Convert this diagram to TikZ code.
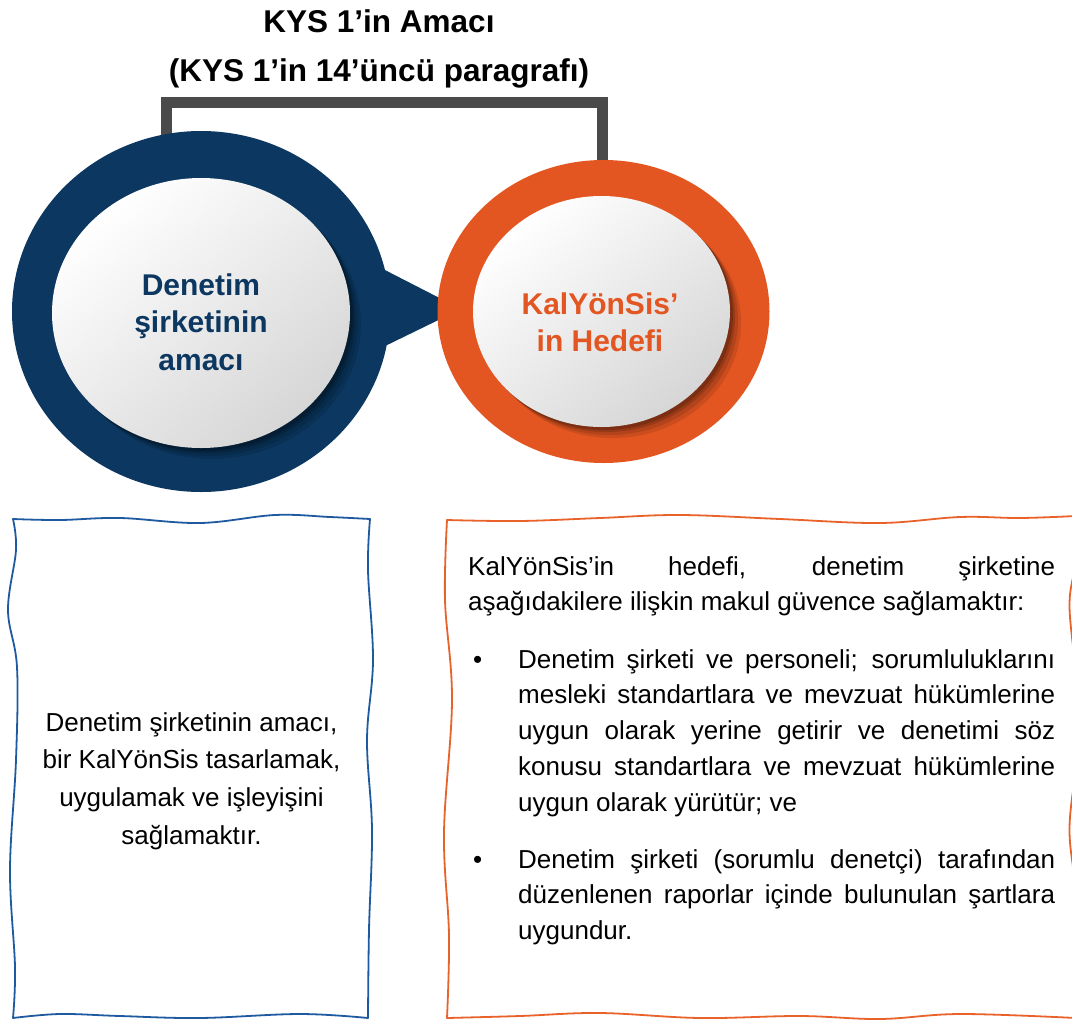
\documentclass[tikz,border=0pt]{standalone}
\usepackage{fontspec}
\setmainfont{Liberation Sans}
\usetikzlibrary{shapes.geometric,calc}
\definecolor{navy}{HTML}{0B3760}
\definecolor{orng}{HTML}{E35622}
\definecolor{brk}{HTML}{4A4A4A}
\definecolor{boxblue}{HTML}{1F5AA0}
\definecolor{boxorng}{HTML}{E8622A}
\definecolor{innerlo}{HTML}{D6D6D6}
\newcommand{\jl}[1]{\makebox[\linewidth][s]{#1}}
\tikzset{
  titletext/.style={anchor=base, inner sep=0, font=\fontsize{31.5}{36}\selectfont\bfseries},
  ring/.style={ellipse, draw=none, inner sep=0, outer sep=0},
  innerdisc/.style={ellipse, draw=none, inner sep=0, outer sep=0, top color=white, bottom color=innerlo, shading angle=40},
  label/.style={anchor=base, inner sep=0, font=\fontsize{30}{37.5}\selectfont\bfseries},
  bracketline/.style={brk, line width=11, line join=miter},
  boxarea/.style={rectangle, draw=none, inner sep=0, outer sep=0},
  wavyedge/.style={line width=1.8, line join=round, line cap=round},
  bodytext/.style={anchor=base west, inner sep=0, font=\fontsize{26}{35.8}\selectfont},
}
\begin{document}
\begin{tikzpicture}[x=1pt,y=-1pt]
\useasboundingbox (0,0) rectangle (1072,1021);
\fill[white] (0,0) rectangle (1072,1021);

% titles
\node[titletext] (t1) at (379,32) {KYS 1’in Amacı};
\node[titletext] (t2) at (379,81) {(KYS 1’in 14’üncü paragrafı)};

% helpers for bracket
\coordinate (bcn) at (201,131);
\coordinate (ocn) at (603,160);
\draw[bracketline] ($(bcn)+(-35,30)$) -- (166,102.5) -| ($(ocn)+(-0.5,15)$);

% pointer
\fill[navy] (372,263.4) -- (461,309) -- (372,352.4) -- cycle;

% blue circle
\node[ring, fill=navy, minimum width=378, minimum height=361] (bc) at (201,311.5) {};
\foreach \d/\o in {11/0.10,8/0.12,5/0.15,3/0.18}
  \fill[black, opacity=\o] (201+\d,313+\d) ellipse [x radius=149, y radius=135];
\node[innerdisc, minimum width=298, minimum height=270] (bi) at (201,313) {};
\node[label, text=navy] (bl) at (201,295) {\parbox[t]{220pt}{\centering Denetim\\ şirketinin\\ amacı}};

% orange circle
\node[ring, fill=orng, minimum width=332, minimum height=303] (oc) at (603.5,311.5) {};
\foreach \d/\o in {11/0.10,8/0.12,5/0.15,3/0.18}
  \fill[black, opacity=\o] (601.5+\d,311.5+\d) ellipse [x radius=128.5, y radius=115.5];
\node[innerdisc, minimum width=257, minimum height=231] (oi) at (601.5,311.5) {};
\node[label, text=orng] (ol) at (600,314) {\parbox[t]{220pt}{\centering KalYönSis’\\ in Hedefi}};

% left wavy box
\node[boxarea, minimum width=357, minimum height=499] (lb) at (191.5,768.5) {};
\draw[wavyedge, boxblue] plot[smooth, tension=0.6] coordinates {(13,519) (60,520) (120,518) (200,523) (275,515) (330,517) (370,519)};
\draw[wavyedge, boxblue] plot[smooth, tension=0.6] coordinates {(370,519) (368,570) (373,660) (367,740) (372,830) (369,930) (368,1018)};
\draw[wavyedge, boxblue] plot[smooth, tension=0.6] coordinates {(368,1018) (300,1014) (200,1018) (120,1016) (60,1014) (13,1018)};
\draw[wavyedge, boxblue] plot[smooth, tension=0.6] coordinates {(13,1018) (15,967) (10,870) (16,760) (17,667) (8,610) (16,550) (13,519)};
\node[bodytext, anchor=base, font=\fontsize{26}{37.7}\selectfont] (lt) at (191.5,731)
  {\parbox[t]{340pt}{\centering Denetim şirketinin amacı,\\ bir KalYönSis tasarlamak,\\ uygulamak ve işleyişini\\ sağlamaktır.}};

% right wavy box
\node[boxarea, minimum width=626, minimum height=498] (rb) at (760,769) {};
\draw[wavyedge, boxorng] plot[smooth, tension=0.6] coordinates {(447,520) (520,521) (600,518) (680,515) (780,519) (880,523) (960,517) (1020,518) (1076,516)};
\draw[wavyedge, boxorng] plot[smooth, tension=0.6] coordinates {(1076,516) (1076,560) (1069.5,605) (1076,680) (1076,760) (1069.5,830) (1076,900) (1076,1018)};
\draw[wavyedge, boxorng] plot[smooth, tension=0.6] coordinates {(1076,1018) (960,1014) (880,1019) (800,1016) (700,1018) (600,1013) (520,1016) (447,1018)};
\draw[wavyedge, boxorng] plot[smooth, tension=0.6] coordinates {(447,1018) (449,935) (444,833) (452,700) (445,600) (447,520)};
\node[bodytext] (p1) at (468,575)
  {\parbox[t]{587pt}{\jl{KalYönSis’in hedefi, denetim şirketine}\\aşağıdakilere ilişkin makul güvence sağlamaktır:}};
\node[bodytext] (b1) at (473,668) {•};
\node[bodytext] (p2) at (518,668)
  {\parbox[t]{537pt}{\jl{Denetim şirketi ve personeli; sorumluluklarını}\\
   \jl{mesleki standartlara ve mevzuat hükümlerine}\\
   \jl{uygun olarak yerine getirir ve denetimi söz}\\
   \jl{konusu standartlara ve mevzuat hükümlerine}\\
   uygun olarak yürütür; ve}};
\node[bodytext] (b2) at (473,868) {•};
\node[bodytext] (p3) at (518,868)
  {\parbox[t]{537pt}{\jl{Denetim şirketi (sorumlu denetçi) tarafından}\\
   \jl{düzenlenen raporlar içinde bulunulan şartlara}\\
   uygundur.}};
\end{tikzpicture}
\end{document}
